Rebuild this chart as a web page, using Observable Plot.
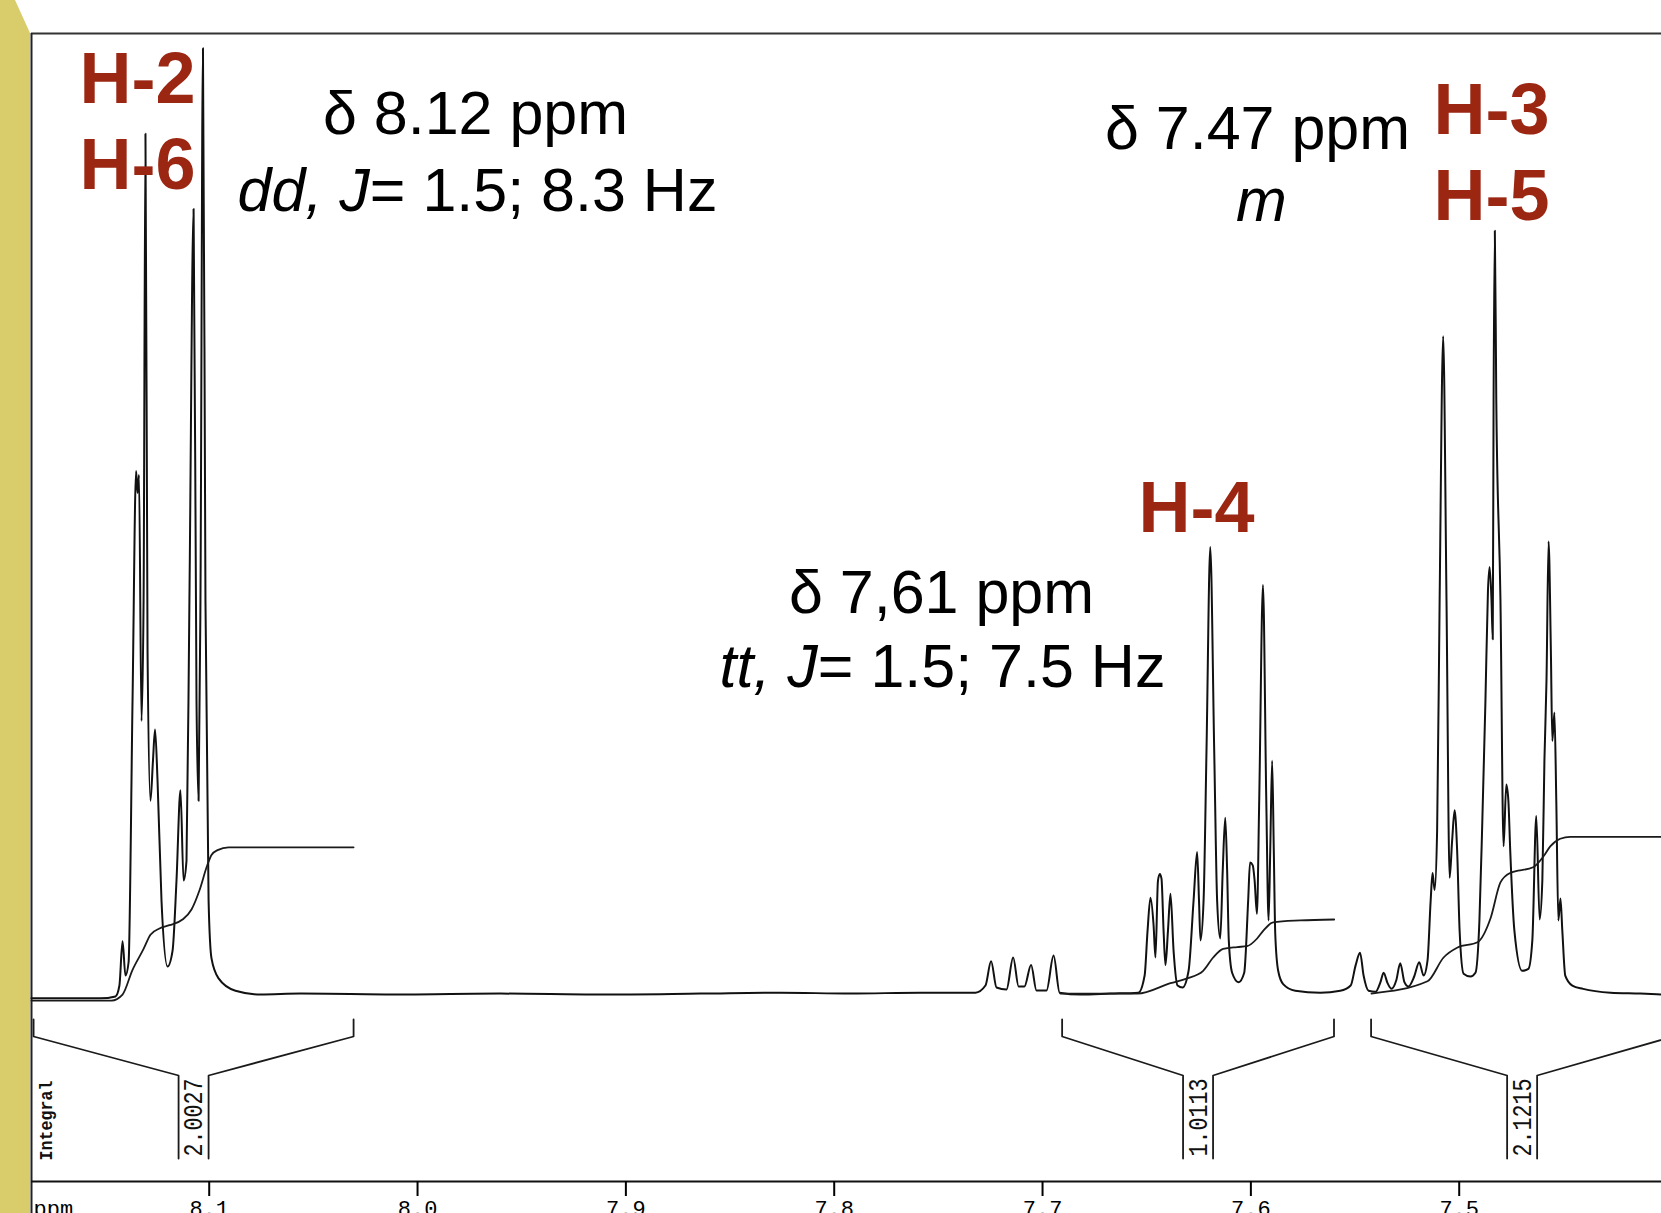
<!DOCTYPE html>
<html><head><meta charset="utf-8">
<script src="https://cdn.jsdelivr.net/npm/d3@7"></script>
<script src="https://cdn.jsdelivr.net/npm/@observablehq/plot@0.6"></script>
<style>
html,body{margin:0;padding:0;background:#fff;overflow:hidden;width:1661px;height:1213px}
#band{position:absolute;left:0;top:0;width:30px;height:1213px;background:#d9cc6b;clip-path:polygon(0 0,15px 0,30px 33px,30px 100%,0 100%);z-index:2}
#chart{position:absolute;left:0;top:0}
</style></head><body>
<div id="band"></div><div id="chart"></div>
<script>
// ---- data: spectrum vertices [ppm, intensity] ----
const baselineLeft = [[8.1853,-0.3],[8.1522,-0.3]];
const groupH2H6 = [[8.1450,-0.1],[8.1431,1.05],[8.1416,5.7],[8.1402,2.1],[8.1387,3.5],[8.1368,31.1],[8.1351,55.2],[8.1344,52.9],[8.1337,54.8],[8.1325,28.9],[8.1315,41.6],[8.1306,90.7],[8.1296,36.3],[8.1282,20.5],[8.1270,24.7],[8.1260,28.0],[8.1248,22.6],[8.1229,10.0],[8.1200,3.05],[8.1176,4.7],[8.1157,12.1],[8.1138,21.6],[8.1123,12.1],[8.1109,14.2],[8.1095,41.6],[8.1075,82.8],[8.1061,31.1],[8.1051,20.5],[8.1042,41.6],[8.1030,99.7],[8.1018,41.6],[8.1003,10.0],[8.0989,3.9],[8.0955,1.8],[8.0874,0.5],[8.0754,0.1]];
const baselineMid = [[8.0562,0.2],[8.0082,0.1],[7.9602,0.2],[7.9122,0.1],[7.8642,0.2],[7.8258,0.3],[7.7922,0.2],[7.7586,0.3]];
const smallPeaks = [[7.7322,0.3],[7.7274,1.05],[7.7247,3.6],[7.7221,0.84],[7.7173,0.63],[7.7141,4.0],[7.7115,0.95],[7.7087,0.95],[7.7055,3.2],[7.7029,0.53],[7.6981,0.53],[7.6947,4.2],[7.6918,0.3],[7.6818,0.1],[7.6674,0.2],[7.6540,0.3]];
const groupH4 = [[7.6510,2.1],[7.6496,6.8],[7.6482,10.3],[7.6467,7.4],[7.6458,4.0],[7.6446,12.1],[7.6437,12.8],[7.6429,12.3],[7.6419,6.8],[7.6410,3.2],[7.6398,6.8],[7.6386,10.7],[7.6371,4.7],[7.6352,1.05],[7.6328,0.84],[7.6299,2.6],[7.6275,10.0],[7.6258,15.1],[7.6249,10.0],[7.6242,5.8],[7.6227,10.0],[7.6213,25.8],[7.6195,47.2],[7.6176,25.8],[7.6162,10.0],[7.6147,6.0],[7.6135,13.2],[7.6123,18.7],[7.6114,13.2],[7.6106,5.8],[7.6090,2.4],[7.6059,1.4],[7.6032,2.4],[7.6013,10.0],[7.6004,14.0],[7.5991,13.7],[7.5982,12.1],[7.5971,8.6],[7.5960,20.5],[7.5942,43.2],[7.5926,20.5],[7.5915,7.9],[7.5907,15.3],[7.5898,24.7],[7.5890,15.3],[7.5883,6.5],[7.5869,2.6],[7.5845,1.2],[7.5787,0.5],[7.5667,0.3],[7.5571,0.5]];
const groupH3H5 = [[7.5521,1.05],[7.5497,3.2],[7.5476,4.5],[7.5459,2.1],[7.5435,0.5],[7.5401,0.4],[7.5378,1.4],[7.5363,2.4],[7.5344,1.3],[7.5325,0.7],[7.5302,1.6],[7.5283,3.4],[7.5263,1.4],[7.5244,0.95],[7.5216,2.0],[7.5192,3.5],[7.5171,2.1],[7.5152,3.7],[7.5137,10.0],[7.5128,12.9],[7.5118,11.1],[7.5106,17.4],[7.5094,41.6],[7.5077,69.4],[7.5061,41.6],[7.5046,12.4],[7.5034,16.3],[7.5022,19.5],[7.5010,15.3],[7.4998,6.8],[7.4979,2.3],[7.4946,2.0],[7.4922,2.4],[7.4903,7.9],[7.4889,18.4],[7.4874,31.1],[7.4862,42.6],[7.4854,45.1],[7.4845,41.6],[7.4839,37.5],[7.4835,62.6],[7.4829,80.5],[7.4822,62.6],[7.4802,41.6],[7.4787,15.7],[7.4774,22.2],[7.4764,20.5],[7.4755,15.2],[7.4735,6.8],[7.4698,2.6],[7.4668,2.8],[7.4649,5.8],[7.4630,18.9],[7.4614,8.0],[7.4601,12.1],[7.4591,24.7],[7.4581,33.2],[7.4571,47.8],[7.4560,36.3],[7.4553,26.8],[7.4543,29.8],[7.4534,20.5],[7.4524,7.9],[7.4514,10.2],[7.4505,6.8],[7.4491,2.1],[7.4457,1.05],[7.4405,0.7],[7.4273,0.3],[7.4131,0.2],[7.4029,0.1]];

// integral traces [ppm, level]
const integral1 = [[8.1853,-0.53],[8.1469,-0.53],[8.1416,0.1],[8.1368,2.7],[8.1315,4.9],[8.1282,6.4],[8.1239,7.05],[8.1191,7.4],[8.1128,8.0],[8.1085,9.05],[8.1047,11.05],[8.1011,13.6],[8.0989,14.8],[8.0960,15.3],[8.0907,15.6],[8.0307,15.6]];
const integral2 = [[7.6914,0.2],[7.6544,0.2],[7.6386,1.3],[7.6306,1.8],[7.6229,2.6],[7.6181,4.0],[7.6133,4.9],[7.6066,5.1],[7.6018,5.2],[7.5970,6.0],[7.5941,6.8],[7.5893,7.7],[7.5763,7.9],[7.5600,8.0]];
const integral3 = [[7.5421,0.2],[7.5152,1.5],[7.5075,4.0],[7.5008,5.05],[7.4912,5.6],[7.4850,8.1],[7.4802,11.9],[7.4755,12.9],[7.4645,13.5],[7.4597,14.6],[7.4563,15.7],[7.4515,16.5],[7.4467,16.7],[7.4029,16.7]];

// integral regions
const regionStart = [8.1843, 7.6906, 7.5423];
const regionEnd = [8.0307, 7.5601, 7.3973];
const regionValue = ["2.0027", "1.0113", "2.1215"];

// axis ticks
const tickValues = [8.1, 8.0, 7.9, 7.8, 7.7, 7.6, 7.5];
const axisUnit = "ppm";
const integralTitle = "Integral";

// annotation texts
const redLabels = ["H-2", "H-6", "H-3", "H-5", "H-4"];
const shiftLabels = ["δ 8.12 ppm", "dd, J= 1.5; 8.3 Hz", "δ 7.47 ppm", "m", "δ 7,61 ppm", "tt, J= 1.5; 7.5 Hz"];

// ---- build ----
const W = 1661, H = 1213;
const xDomain = [8.1853, 7.4029];
const yOf = px => (995 - px) / 9.5; // pixel row -> y-scale units (layout helper)

const spectrum = [...baselineLeft, ...groupH2H6, ...baselineMid, ...smallPeaks, ...groupH4, ...groupH3H5]
  .map(([ppm, v]) => ({ppm, v}));
const integrals = [integral1, integral2, integral3]
  .flatMap((seg, k) => seg.map(([ppm, v]) => ({ppm, v, seg: k})));
const regions = regionStart.map((s, k) => ({start: s, end: regionEnd[k], value: regionValue[k], mid: (s + regionEnd[k]) / 2}));
const hw = 15 / 2083.2;
const brackets = regions.flatMap((r, k) => [
  {x: r.start, y: yOf(1019), z: 2*k}, {x: r.start, y: yOf(1036), z: 2*k}, {x: r.mid + hw, y: yOf(1075), z: 2*k}, {x: r.mid + hw, y: yOf(1158), z: 2*k},
  {x: r.end, y: yOf(1019), z: 2*k+1}, {x: r.end, y: yOf(1036), z: 2*k+1}, {x: r.mid - hw, y: yOf(1075), z: 2*k+1}, {x: r.mid - hw, y: yOf(1158), z: 2*k+1}
]);

const RED = "#9b2612";
const SANS = "Liberation Sans, Arial, sans-serif";
const MONO = "Liberation Mono, DejaVu Sans Mono, monospace";
const L = 31, T = 33;
function note(text, x, base, opts) {
  return Plot.text([text], Object.assign({frameAnchor: "top-left", dx: x - L, dy: base - T, text: d => d,
    lineAnchor: "bottom", fontFamily: SANS, fill: "#000"}, opts));
}
const big = {fontSize: 72, fontWeight: "bold", fill: RED, textAnchor: "start"};
const mid = {fontSize: 61, textAnchor: "middle"};

const svg = Plot.plot({
  width: W, height: H,
  marginLeft: L, marginRight: 0, marginTop: T, marginBottom: 32,
  style: {background: "transparent", fontFamily: SANS, overflow: "hidden"},
  x: {domain: xDomain},
  y: {domain: [0, 100], range: [995, 45], axis: null},
  marks: [
    Plot.ruleY([yOf(33)], {stroke: "#333", strokeWidth: 2}),
    Plot.ruleX([xDomain[0]], {y1: yOf(33), y2: yOf(1213), stroke: "#222", strokeWidth: 2}),
    Plot.ruleY([yOf(1181)], {stroke: "#111", strokeWidth: 2.2}),
    Plot.axisX({ticks: tickValues, tickFormat: d => d.toFixed(1), tickSize: 15, tickPadding: 4,
      fontSize: 22, fontFamily: MONO, strokeWidth: 2, label: null}),
    Plot.text([axisUnit], {frameAnchor: "bottom-left", dx: 2, dy: 19, text: d => d, lineAnchor: "top",
      textAnchor: "start", fontSize: 22, fontFamily: MONO}),
    Plot.line(spectrum, {x: "ppm", y: "v", curve: "monotone-x", stroke: "#111", strokeWidth: 2}),
    Plot.line(integrals, {x: "ppm", y: "v", z: "seg", curve: "monotone-x", stroke: "#1a1a1a", strokeWidth: 1.8}),
    Plot.line(brackets, {x: "x", y: "y", z: "z", stroke: "#1a1a1a", strokeWidth: 1.8}),
    Plot.text(regions, {x: "mid", y: yOf(1117), text: "value", rotate: -90, fontFamily: MONO, fontSize: 27, fill: "#111"}),
    Plot.text([integralTitle], {frameAnchor: "top-left", dx: 45 - L, dy: 1120 - T, text: d => d, rotate: -90,
      textAnchor: "middle", lineAnchor: "middle", fontFamily: MONO, fontSize: 19, fontWeight: "bold", fill: "#111"}),
    note(redLabels[0], 79, 102, big),
    note(redLabels[1], 79, 188, big),
    note(redLabels[2], 1433, 133, big),
    note(redLabels[3], 1433, 219, big),
    note(redLabels[4], 1138, 531, big),
    note(shiftLabels[0], 475, 133, mid),
    note(shiftLabels[1], 477, 210, mid),
    note(shiftLabels[2], 1257, 148, mid),
    note(shiftLabels[3], 1261, 220, Object.assign({fontStyle: "italic"}, mid)),
    note(shiftLabels[4], 941, 612, mid),
    note(shiftLabels[5], 942, 686, mid)
  ]
});

// italic parts of the coupling lines; condensed printer-style labels
const NS = "http://www.w3.org/2000/svg";
for (const t of svg.querySelectorAll("text")) {
  const s = t.textContent || "";
  const m = s.match(/^(dd, J|tt, J)(=.*)$/);
  if (m && t.children.length === 0) {
    t.textContent = "";
    const a = document.createElementNS(NS, "tspan"); a.setAttribute("font-style", "italic"); a.textContent = m[1];
    const b = document.createElementNS(NS, "tspan"); b.textContent = m[2];
    t.append(a, b);
  }
  if (regionValue.includes(s)) { t.setAttribute("textLength", "78"); t.setAttribute("lengthAdjust", "spacingAndGlyphs"); }
  if (s === integralTitle) { t.setAttribute("textLength", "80"); t.setAttribute("lengthAdjust", "spacingAndGlyphs"); }
}
document.getElementById("chart").append(svg);
</script></body></html>
